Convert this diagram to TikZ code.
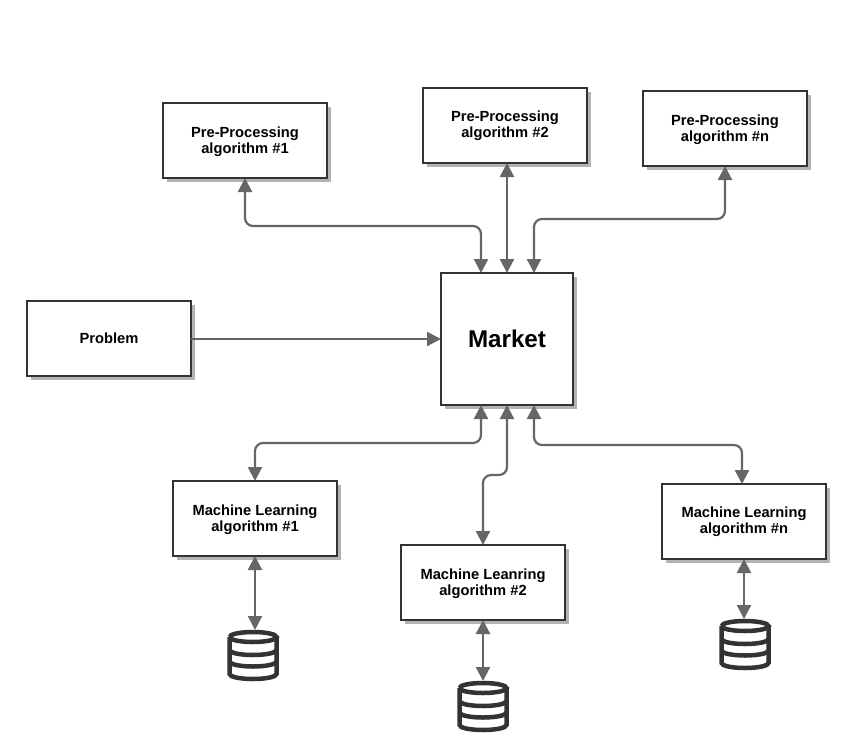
\documentclass[tikz,border=0pt]{standalone}
\usepackage{fontspec}
\setmainfont{Liberation Sans}
\usetikzlibrary{arrows.meta,shadows,calc}
\definecolor{edge}{HTML}{333333}
\definecolor{conn}{HTML}{666666}
\definecolor{shade}{HTML}{B3B3B3}
\tikzset{
  x=1pt,y=-1pt,
  boxnode/.style={draw=edge,line width=2pt,fill=white,minimum width=164pt,minimum height=75pt,inner sep=0pt,outer sep=0pt,align=center,
    font=\bfseries\fontsize{14.7}{16}\selectfont,
    drop shadow={shadow xshift=4pt,shadow yshift=-4pt,fill=shade,opacity=1}},
  marketnode/.style={boxnode,minimum width=132pt,minimum height=132pt,font=\bfseries\fontsize{24.2}{28}\selectfont},
  dbnode/.style={minimum width=50pt,minimum height=50pt,inner sep=0pt},
  link/.style={draw=conn,line width=2.2pt,rounded corners=8pt,{Triangle[length=14pt,width=14pt]}-{Triangle[length=14pt,width=14pt]}},
  oneway/.style={draw=conn,line width=2.2pt,-{Triangle[length=14pt,width=14pt]}},
  dbline/.style={draw=edge,line width=4.5pt,fill=none}
}
\newcommand{\dn}{\rule{0pt}{13pt}}
\newcommand{\dbicon}[1]{%
  \begin{scope}[shift={(#1.center)}]
    \draw[dbline] (-23.5,-19) arc[start angle=180,end angle=-180,x radius=23.5,y radius=5];
    \draw[dbline] (-23.5,-19) -- (-23.5,18) arc[start angle=180,end angle=360,x radius=23.5,y radius=-5] -- (23.5,-19);
    \draw[dbline] (-23.5,-6) arc[start angle=180,end angle=360,x radius=23.5,y radius=-5];
    \draw[dbline] (-23.5,5.5) arc[start angle=180,end angle=360,x radius=23.5,y radius=-5];
  \end{scope}}
\begin{document}
\begin{tikzpicture}
\useasboundingbox (0,0) rectangle (846,753);
\fill[white] (0,0) rectangle (846,753);
\node[marketnode] (market) at (507,339) {Market};
\node[boxnode] (pp1) at (245,140.5) {\dn Pre-Processing\\algorithm \#1};
\node[boxnode] (pp2) at (505,125.5) {Pre-Processing\\algorithm \#2};
\node[boxnode] (ppn) at (725,128.5) {\dn Pre-Processing\\algorithm \#n};
\node[boxnode] (problem) at (109,338.5) {Problem};
\node[boxnode] (ml1) at (255,518.5) {\dn Machine Learning\\algorithm \#1};
\node[boxnode] (ml2) at (483,582.5) {\dn Machine Leanring\\algorithm \#2};
\node[boxnode] (mln) at (744,521.5) {Machine Learning\\algorithm \#n};
\node[dbnode] (db1) at (253,656) {};
\node[dbnode] (db2) at (483,707) {};
\node[dbnode] (dbn) at (745,645) {};
\dbicon{db1}
\dbicon{db2}
\dbicon{dbn}
\coordinate (mt1) at ($(market.north)+(-26,0)$);
\coordinate (mt2) at (market.north);
\coordinate (mt3) at ($(market.north)+(27,0)$);
\coordinate (mb1) at ($(market.south)+(-26,0)$);
\coordinate (mb2) at (market.south);
\coordinate (mb3) at ($(market.south)+(27,0)$);
\draw[link] (mt1) |- (245,226) -- (pp1.south);
\draw[link] (mt2) -- (mt2 |- pp2.south);
\draw[link] (mt3) |- (725,219) -- (ppn.south);
\draw[oneway] (market.west -| problem.east) -- (market.west);
\draw[link] (mb1) |- (255,443) -- (ml1.north);
\draw[link] (mb2) -- (507,475) -- (483,475) -- (ml2.north);
\draw[link] (mb3) |- (742,445) -- (742,484);
\draw[link] (ml1.south) -- (255,630);
\draw[link] (ml2.south) -- (483,681);
\draw[link] (mln.south) -- (744,619);
\end{tikzpicture}
\end{document}
